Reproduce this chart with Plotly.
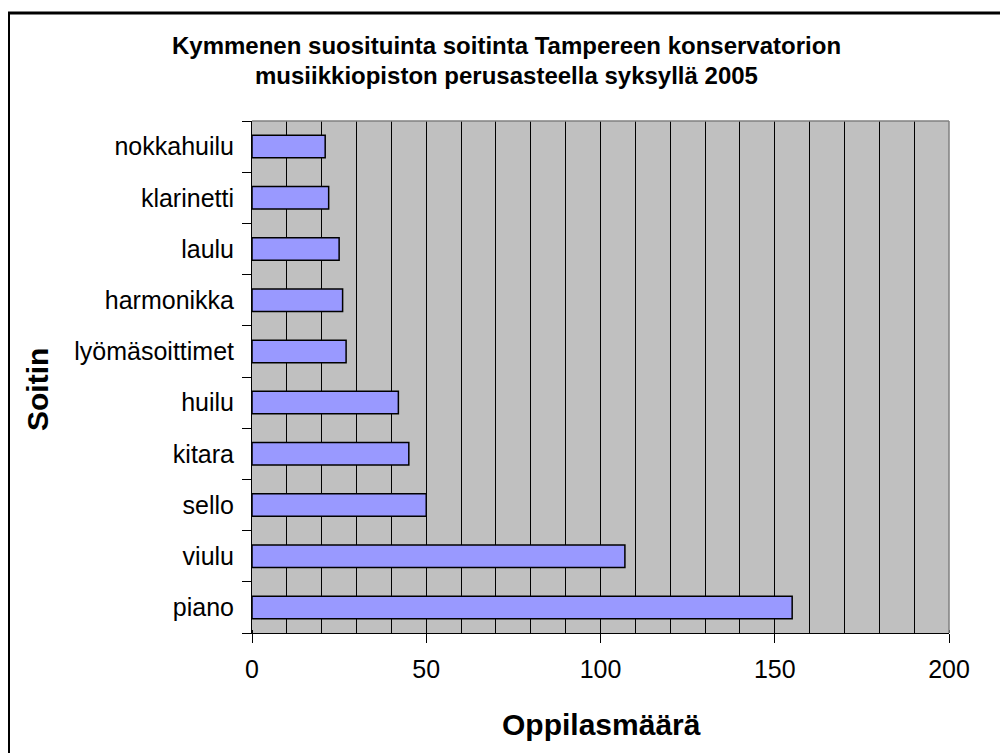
import plotly.graph_objects as go

# Data (bottom to top as drawn)
instruments = ["piano", "viulu", "sello", "kitara", "huilu",
               "lyömäsoittimet", "harmonikka", "laulu", "klarinetti", "nokkahuilu"]
students = [155, 107, 50, 45, 42, 27, 26, 25, 22, 21]

x_ticks = [0, 50, 100, 150, 200]

title_line1 = "Kymmenen suosituinta soitinta Tampereen konservatorion"
title_line2 = "musiikkiopiston perusasteella syksyllä 2005"
x_title = "Oppilasmäärä"
y_title = "Soitin"

FONT = "Liberation Sans, Arial, sans-serif"

OFF = 8  # page body margin
W, H = 1008, 753
L, R, T, B = 252 - OFF, 1008 - (949 - OFF), 121 - OFF, 753 - (633 - OFF)
pw = W - L - R
ph = H - T - B

def px_x(px):
    return (px - OFF - L) / pw

def px_y(py):
    return (H - B - (py - OFF)) / ph

fig = go.Figure()
fig.add_trace(go.Bar(
    x=students, y=instruments, orientation="h",
    marker=dict(color="#9999FF", line=dict(color="#000000", width=1.5)),
    width=0.44,
    hoverinfo="x+y",
))

fig.update_layout(
    width=W, height=H,
    margin=dict(l=L, r=R, t=T, b=B, autoexpand=False),
    paper_bgcolor="#FFFFFF",
    plot_bgcolor="#C0C0C0",
    showlegend=False,
    font=dict(family=FONT, color="#000000"),
    xaxis=dict(
        range=[0, 200],
        tickvals=x_ticks,
        ticks="outside", ticklen=9, tickcolor="#000000", tickwidth=1,
        showline=True, linecolor="#000000", linewidth=1,
        showgrid=True, gridcolor="#000000", gridwidth=1,
        minor=dict(dtick=10, showgrid=True, gridcolor="#000000", gridwidth=1,
                   ticks="inside", ticklen=3, tickcolor="#000000"),
        tickfont=dict(size=25, family=FONT),
        ticklabelstandoff=5,
        zeroline=False,
        fixedrange=True,
    ),
    yaxis=dict(
        categoryorder="array", categoryarray=instruments,
        tickson="boundaries",
        ticks="outside", ticklen=9, tickcolor="#000000", tickwidth=1,
        showline=True, linecolor="#000000", linewidth=1,
        showgrid=False,
        tickfont=dict(size=25, family=FONT),
        ticklabelstandoff=12,
        fixedrange=True,
    ),
    shapes=[
        # gray top and right plot-area borders
        dict(type="line", xref="paper", yref="paper", x0=0, x1=1, y0=1, y1=1,
             line=dict(color="#808080", width=1.5)),
        dict(type="line", xref="paper", yref="paper", x0=1, x1=1, y0=0, y1=1,
             line=dict(color="#808080", width=1.5)),
        # outer chart border (only top and left visible)
        dict(type="rect", xref="paper", yref="paper",
             x0=px_x(8.5), x1=px_x(1040), y0=px_y(800), y1=px_y(13),
             line=dict(color="#000000", width=3), fillcolor="rgba(0,0,0,0)",
             layer="above"),
    ],
    annotations=[
        dict(text="<b>" + title_line1 + "</b>", xref="paper", yref="paper",
             x=px_x(506), y=px_y(45), xanchor="center", yanchor="middle",
             showarrow=False, font=dict(size=24, family=FONT)),
        dict(text="<b>" + title_line2 + "</b>", xref="paper", yref="paper",
             x=px_x(506), y=px_y(75), xanchor="center", yanchor="middle",
             showarrow=False, font=dict(size=24, family=FONT)),
        dict(text="<b>" + x_title + "</b>", xref="paper", yref="paper",
             x=px_x(601), y=px_y(724), xanchor="center", yanchor="middle",
             showarrow=False, font=dict(size=30, family=FONT)),
        dict(text="<b>" + y_title + "</b>", xref="paper", yref="paper",
             x=px_x(37), y=px_y(390), xanchor="center", yanchor="middle",
             textangle=-90,
             showarrow=False, font=dict(size=30, family=FONT)),
    ],
)

fig.write_html("out.html")
